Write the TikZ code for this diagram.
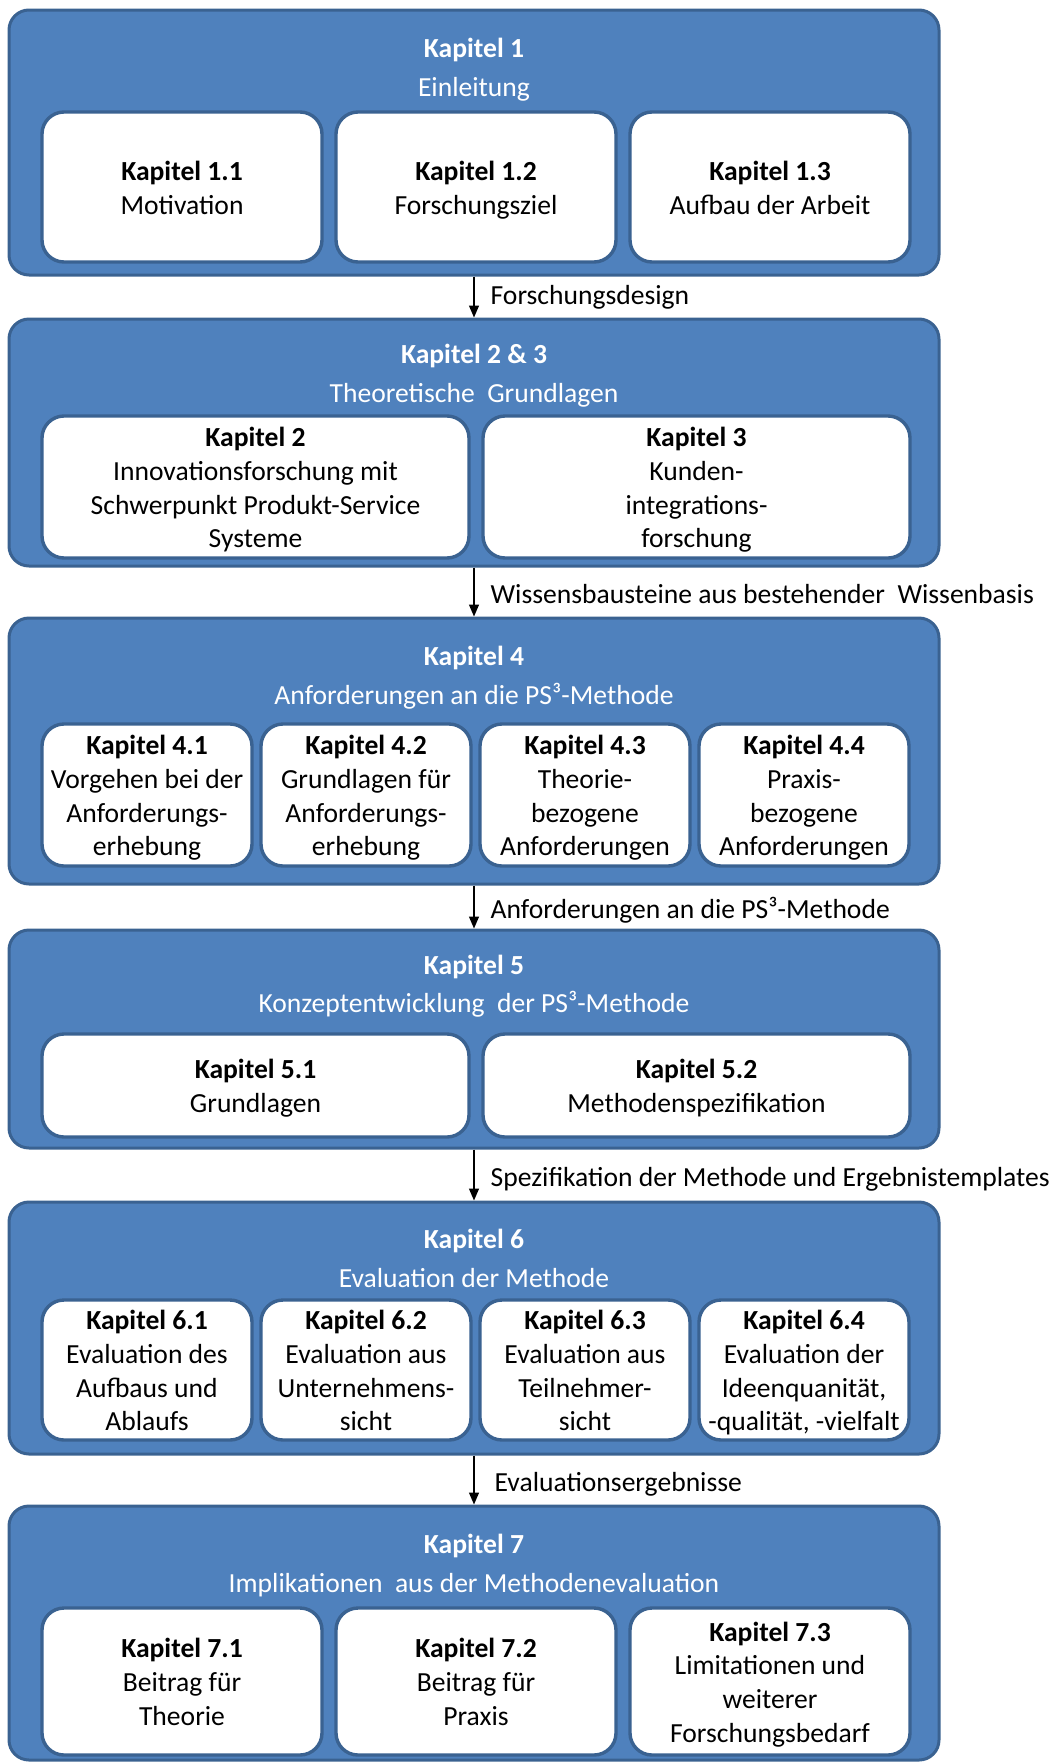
\documentclass[tikz,border=0pt]{standalone}
\usepackage{fontspec}
\setmainfont{Carlito}
\usetikzlibrary{arrows.meta}
\definecolor{blockfill}{HTML}{4F81BD}
\definecolor{blockline}{HTML}{3A6291}
\newcommand\fs{\fontsize{13.8pt}{16.85pt}\selectfont}
% invisible rules that fix the height and depth of the text lines
\newcommand\linestrut{\vrule height 15pt depth 3.5pt width 0pt}
\newcommand\topstrut{\vrule height 13.65pt depth 0pt width 0pt}
\newcommand\bottomstrut{\vrule height 0pt depth 3.5pt width 0pt}
% text of a sub-chapter box: bold heading line, then the description
\newcommand\parttext[2]{\topstrut\textbf{#1}\\#2\bottomstrut}
\tikzset{
  block/.style={draw=blockline, fill=blockfill, line width=1.5pt,
    rounded corners=10pt, minimum width=465pt, inner sep=0pt},
  part/.style={draw=blockline, fill=white, line width=1.7pt,
    rounded corners=11pt, inner sep=0pt, align=center, font=\fs},
  wide/.style={part, minimum width=213.5pt},
  third/.style={part, minimum width=140pt},
  quarter/.style={part, minimum width=105pt},
  head/.style={inner sep=0pt, text=white, font=\fs\bfseries,
    execute at begin node=\linestrut},
  subhead/.style={inner sep=0pt, text=white, font=\fs,
    execute at begin node=\linestrut},
  conn/.style={line width=0.65pt, -{Triangle[width=5pt,length=6pt]}},
  flowlabel/.style={inner sep=0pt, anchor=west, xshift=8pt, font=\fs,
    execute at begin node=\linestrut},
}
\begin{document}
\begin{tikzpicture}[x=0.5pt,y=-0.5pt]
\useasboundingbox (0,0) rectangle (1063,1762);

% Kapitel 1
\node[block, minimum height=132.5pt] (b1) at (474,142.5) {};
\node[head] (h1) at (474,46) {Kapitel 1};
\node[subhead] (s1) at (474,85) {Einleitung};
\node[third, minimum height=75pt] (p11) at (182,187) {\parttext{Kapitel 1.1}{Motivation}};
\node[third, minimum height=75pt] (p12) at (476,187) {\parttext{Kapitel 1.2}{Forschungsziel}};
\node[third, minimum height=75pt] (p13) at (770,187) {\parttext{Kapitel 1.3}{Aufbau der Arbeit}};

% Kapitel 2 & 3
\node[block, minimum height=123.5pt] (b2) at (474,442.5) {};
\node[head] (h2) at (474,352) {Kapitel 2 \& 3};
\node[subhead] (s2) at (474,391) {Theoretische\ \ Grundlagen};
\node[wide, minimum height=71pt] (p21) at (255.5,487) {\parttext{Kapitel 2}{Innovationsforschung mit\\Schwerpunkt Produkt-Service\\Systeme}};
\node[wide, minimum height=71pt] (p22) at (696.5,487) {\parttext{Kapitel 3}{Kunden-\\integrations-\\forschung}};

% Kapitel 4
\node[block, minimum height=133pt] (b3) at (474,751) {};
\node[head] (h3) at (474,654) {Kapitel 4};
\node[subhead] (s3) at (474,693) {Anforderungen an die PS³-Methode};
\node[quarter, minimum height=71pt] (p31) at (147,795) {\parttext{Kapitel 4.1}{Vorgehen bei der\\Anforderungs-\\erhebung}};
\node[quarter, minimum height=71pt] (p32) at (366,795) {\parttext{Kapitel 4.2}{Grundlagen für\\Anforderungs-\\erhebung}};
\node[quarter, minimum height=71pt] (p33) at (585,795) {\parttext{Kapitel 4.3}{Theorie-\\bezogene\\Anforderungen}};
\node[quarter, minimum height=71pt] (p34) at (804,795) {\parttext{Kapitel 4.4}{Praxis-\\bezogene\\Anforderungen}};

% Kapitel 5
\node[block, minimum height=109pt] (b4) at (474,1039) {};
\node[head] (h4) at (474,963) {Kapitel 5};
\node[subhead] (s4) at (474,1001) {Konzeptentwicklung\ \ der PS³-Methode};
\node[wide, minimum height=51.5pt] (p41) at (255.5,1085.5) {\parttext{Kapitel 5.1}{Grundlagen}};
\node[wide, minimum height=51.5pt] (p42) at (696.5,1085.5) {\parttext{Kapitel 5.2}{Methodenspezifikation}};

% Kapitel 6
\node[block, minimum height=126pt] (b5) at (474,1328) {};
\node[head] (h5) at (474,1237) {Kapitel 6};
\node[subhead] (s5) at (474,1276) {Evaluation der Methode};
\node[quarter, minimum height=70pt] (p51) at (147,1370) {\parttext{Kapitel 6.1}{Evaluation des\\Aufbaus und\\Ablaufs}};
\node[quarter, minimum height=70pt] (p52) at (366,1370) {\parttext{Kapitel 6.2}{Evaluation aus\\Unternehmens-\\sicht}};
\node[quarter, minimum height=70pt] (p53) at (585,1370) {\parttext{Kapitel 6.3}{Evaluation aus\\Teilnehmer-\\sicht}};
\node[quarter, minimum height=70pt] (p54) at (804,1370) {\parttext{Kapitel 6.4}{Evaluation der\\Ideenquanität,\\-qualität, -vielfalt}};

% Kapitel 7
\node[block, minimum height=127pt] (b6) at (474,1633) {};
\node[head] (h6) at (474,1542) {Kapitel 7};
\node[subhead] (s6) at (474,1581) {Implikationen\ \ aus der Methodenevaluation};
\node[third, minimum height=73.5pt] (p61) at (182,1681.5) {\parttext{Kapitel 7.1}{Beitrag für\\Theorie}};
\node[third, minimum height=73.5pt] (p62) at (476,1681.5) {\parttext{Kapitel 7.2}{Beitrag für\\Praxis}};
\node[third, minimum height=73.5pt] (p63) at (770,1681.5) {\parttext{Kapitel 7.3}{Limitationen und\\weiterer\\Forschungsbedarf}};

% flow between the chapters
\draw[conn] (b1.south) -- node[flowlabel, yshift=1.8pt] (l1) {Forschungsdesign} (b2.north);
\draw[conn] (b2.south) -- node[flowlabel] (l2) {Wissensbausteine aus bestehender\ \ Wissenbasis} (b3.north);
\draw[conn] (b3.south) -- node[flowlabel] (l3) {Anforderungen an die PS³-Methode} (b4.north);
\draw[conn] (b4.south) -- node[flowlabel] (l4) {Spezifikation der Methode und Ergebnistemplates} (b5.north);
\draw[conn] (b5.south) -- node[flowlabel, xshift=2pt] (l5) {Evaluationsergebnisse} (b6.north);
\end{tikzpicture}
\end{document}
